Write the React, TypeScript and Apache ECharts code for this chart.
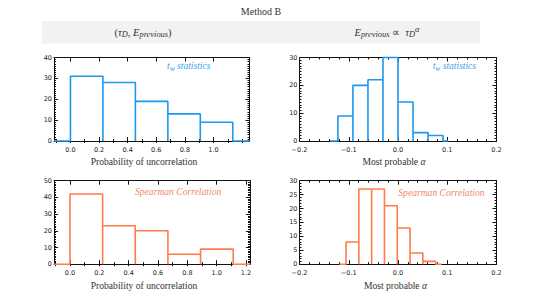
import React, { useEffect, useRef } from "react";
import * as echarts from "echarts";

// ---- data ----
// top-left: t_w statistics, probability of uncorrelation
const tlEdges = [0, 0.227, 0.454, 0.681, 0.908, 1.135];
const tlCounts = [31, 28, 19, 13, 9];
const tlBase = [-0.115, 1.252];
const tlXTicks = [0, 0.2, 0.4, 0.6, 0.8, 1.0];
// top-right: t_w statistics, most probable alpha
const trEdges = [-0.122, -0.0915, -0.061, -0.0305, 0, 0.0305, 0.061, 0.0915];
const trCounts = [9, 20, 22, 30, 14, 3, 2];
const trBase = [-0.138, 0.102];
// bottom-left: Spearman correlation, probability of uncorrelation
const blEdges = [0, 0.2225, 0.445, 0.6675, 0.89, 1.1125];
const blCounts = [42, 23, 20, 6, 9];
const blBase = [-0.109, 1.227];
const blXTicks = [0, 0.2, 0.4, 0.6, 0.8, 1.0, 1.2];
// bottom-right: Spearman correlation, most probable alpha
const brEdges = [-0.1055, -0.0795, -0.0535, -0.0275, -0.0015, 0.0245, 0.0505, 0.0765];
const brCounts = [8, 27, 27, 21, 13, 4, 1];
const brBase = [-0.119, 0.0887];

const BLUE = "#1c98ef";
const ORANGE = "#ff7b4c";
const BLUE_TXT = "#3d9fe6";
const ORANGE_TXT = "#f4876a";

function outline(edges: number[], counts: number[], base: number[]) {
  const pts: number[][] = [[base[0], 0], [edges[0], 0]];
  counts.forEach((c, i) => {
    pts.push([edges[i], c], [edges[i + 1], c], [edges[i + 1], 0]);
  });
  pts.push([base[1], 0]);
  return pts;
}

const fmt = (v: number) => {
  if (Math.abs(v) < 1e-9) return "0.0";
  return (v < 0 ? "\u2212" : "") + Math.abs(v).toFixed(1);
};

const tickLabel = { fontSize: 6.5, color: "#222", fontFamily: "DejaVu Sans" };
const lineSt = { color: "#111", width: 1 };

function range(a: number, b: number, step: number) {
  const out: number[] = [];
  for (let v = a; v <= b + 1e-9; v += step) out.push(Math.round(v * 1000) / 1000);
  return out;
}

export default function App() {
  const ref = useRef<HTMLDivElement>(null);
  useEffect(() => {
    if (!ref.current) return;
    const chart = echarts.init(ref.current, undefined, { renderer: "svg" });

    const grids = [
      { left: 54, top: 57.5, width: 195.5, height: 83.5 },
      { left: 299.5, top: 57.5, width: 197, height: 83.5 },
      { left: 54, top: 180.7, width: 196, height: 83.5 },
      { left: 299.5, top: 180.7, width: 197, height: 83.5 },
    ];

    const xAxis: any[] = [];
    const yAxis: any[] = [];

    const leftX = (g: number, min: number, max: number, majors: number[]) => {
      const minors = range(-0.1, max, 0.1).filter((v) => v >= min && v <= max);
      const first = xAxis.length;
      (["bottom", "top"] as const).forEach((pos) => {
        xAxis.push({
          gridIndex: g, type: "value", min, max, position: pos,
          axisLine: { show: true, onZero: false, lineStyle: lineSt },
          axisTick: { show: true, inside: true, length: 4, customValues: majors, lineStyle: lineSt },
          axisLabel: pos === "bottom"
            ? { show: true, customValues: majors, formatter: fmt, margin: 5, ...tickLabel }
            : { show: false },
          splitLine: { show: false },
        });
        xAxis.push({
          gridIndex: g, type: "value", min, max, position: pos,
          axisLine: { show: false },
          axisTick: { show: true, inside: true, length: 2, customValues: minors, lineStyle: lineSt },
          axisLabel: { show: false },
          splitLine: { show: false },
        });
      });
      return first;
    };
    const rightX = (g: number) => {
      const first = xAxis.length;
      (["bottom", "top"] as const).forEach((pos) => {
        xAxis.push({
          gridIndex: g, type: "value", min: -0.2, max: 0.2, interval: 0.1, position: pos,
          axisLine: { show: true, onZero: false, lineStyle: lineSt },
          axisTick: { show: true, inside: true, length: 4, lineStyle: lineSt },
          minorTick: { show: true, splitNumber: 5, length: 2, lineStyle: lineSt },
          axisLabel: pos === "bottom"
            ? { show: true, formatter: fmt, margin: 5, ...tickLabel }
            : { show: false },
          splitLine: { show: false },
        });
      });
      return first;
    };
    const yAx = (g: number, max: number, interval: number) => {
      const first = yAxis.length;
      (["left", "right"] as const).forEach((pos) => {
        yAxis.push({
          gridIndex: g, type: "value", min: 0, max, interval, position: pos,
          axisLine: { show: true, onZero: false, lineStyle: lineSt },
          axisTick: { show: true, inside: true, length: 4, lineStyle: lineSt },
          minorTick: { show: true, splitNumber: interval, length: 2, lineStyle: lineSt },
          axisLabel: pos === "left"
            ? { show: true, margin: 2, ...tickLabel }
            : { show: false },
          splitLine: { show: false },
        });
      });
      return first;
    };

    const x0 = leftX(0, tlBase[0], tlBase[1], tlXTicks);
    const x1 = rightX(1);
    const x2 = leftX(2, blBase[0], blBase[1], blXTicks);
    const x3 = rightX(3);
    const y0 = yAx(0, 40, 10);
    const y1 = yAx(1, 30, 10);
    const y2 = yAx(2, 50, 10);
    const y3 = yAx(3, 30, 5);

    const mk = (xi: number, yi: number, data: number[][], color: string) => ({
      type: "line",
      xAxisIndex: xi,
      yAxisIndex: yi,
      data,
      showSymbol: false,
      symbol: "none",
      clip: false,
      z: 5,
      lineStyle: { color, width: 1.6 },
      silent: true,
    });

    const serifFont = "Liberation Serif";
    const rich = (color: string, size: number) => ({
      i: { fontStyle: "italic", fontSize: size, fontFamily: serifFont, fill: color, color, lineHeight: 13, verticalAlign: "middle" },
      n: { fontSize: size, fontFamily: serifFont, fill: color, color, lineHeight: 13, verticalAlign: "middle" },
      s: { fontStyle: "italic", fontSize: size * 0.8, fontFamily: serifFont, fill: color, color, lineHeight: 9, verticalAlign: "bottom" },
      p: { fontStyle: "italic", fontSize: size * 0.8, fontFamily: serifFont, fill: color, color, lineHeight: 9, verticalAlign: "top" },
    });

    const text = (x: number, y: number, t: string, extra: any = {}) => ({
      type: "text",
      x, y,
      style: {
        text: t,
        fontFamily: serifFont,
        fontSize: 9.6,
        fill: "#333",
        textAlign: "center",
        textVerticalAlign: "middle",
        ...extra,
      },
      z: 10,
    });

    chart.setOption({
      animation: false,
      grid: grids,
      xAxis,
      yAxis,
      series: [
        mk(x0, y0, outline(tlEdges, tlCounts, tlBase), BLUE),
        mk(x1, y1, outline(trEdges, trCounts, trBase), BLUE),
        mk(x2, y2, outline(blEdges, blCounts, blBase), ORANGE),
        mk(x3, y3, outline(brEdges, brCounts, brBase), ORANGE),
      ],
      graphic: [
        { type: "rect", shape: { x: 42, y: 21, width: 438, height: 22.5 }, style: { fill: "#f2f2f2" }, z: 1 },
        text(261, 11, "Method B", { fontSize: 10 }),
        text(143, 32, "{n|(}{i|τ}{s|D}{n|, }{i|E}{s|previous}{n|)}", { rich: rich("#333", 10.5) }),
        text(387, 32, "{i|E}{s|previous}{n| \u221D  }{i|τ}{s|D}{p|α}", { rich: rich("#333", 10.5) }),
        text(144, 161.5, "Probability of uncorrelation"),
        text(144, 285, "Probability of uncorrelation"),
        text(394, 161.5, "Most probable {i|α}", { rich: { i: { fontStyle: "italic", fontSize: 9.6, fontFamily: serifFont, fill: "#333" } } }),
        text(395.5, 285, "Most probable {i|α}", { rich: { i: { fontStyle: "italic", fontSize: 9.6, fontFamily: serifFont, fill: "#333" } } }),
        text(167, 65.7, "{i|t}{s|w}{i| statistics}", { textAlign: "left", rich: rich(BLUE_TXT, 9.5) }),
        text(432.7, 65.7, "{i|t}{s|w}{i| statistics}", { textAlign: "left", rich: rich(BLUE_TXT, 9.5) }),
        text(135, 191.7, "Spearman Correlation", { textAlign: "left", fontStyle: "italic", fill: ORANGE_TXT, fontSize: 9.6 }),
        text(398.3, 192.3, "Spearman Correlation", { textAlign: "left", fontStyle: "italic", fill: ORANGE_TXT, fontSize: 9.6 }),
      ],
    });
    return () => chart.dispose();
  }, []);
  return (
    <div
      ref={ref}
      style={{ position: "absolute", left: 0, top: 0, width: 543, height: 305, background: "#fff" }}
    />
  );
}
